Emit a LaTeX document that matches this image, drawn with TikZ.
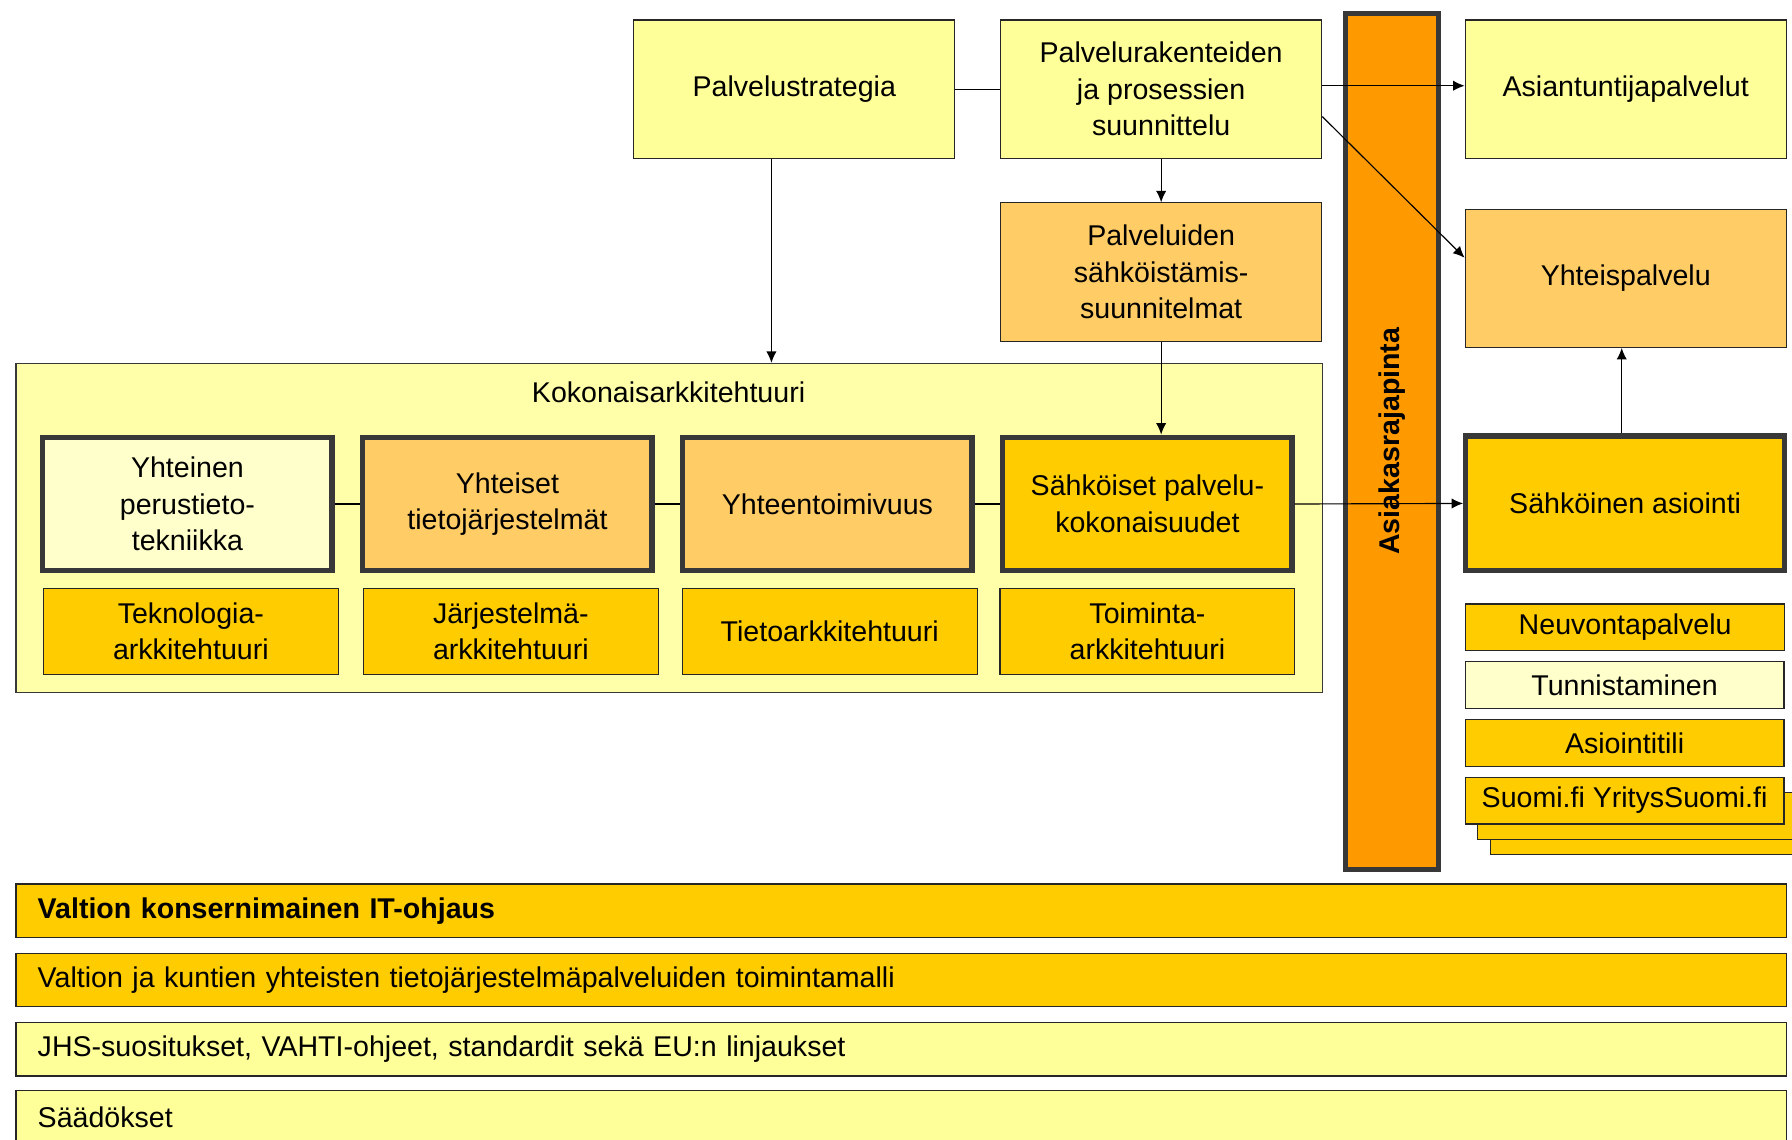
\documentclass[tikz,border=0pt]{standalone}
\usepackage{fontspec}
\setmainfont{Liberation Sans}
\usepackage{tikz}
\usetikzlibrary{arrows.meta,positioning}
\definecolor{lightyellow}{HTML}{FFFF99}
\definecolor{paleyellow}{HTML}{FFFFCC}
\definecolor{archyellow}{HTML}{FFFFAA}
\definecolor{lightorange}{HTML}{FFCC66}
\definecolor{gold}{HTML}{FFCC00}
\definecolor{deeporange}{HTML}{FF9900}
\definecolor{darkframe}{HTML}{383838}
\tikzset{
  box/.style={draw=black!85,line width=1pt,minimum width=281pt,minimum height=121pt,align=center,inner sep=0pt},
  thickbox/.style={box,draw=darkframe,line width=4.6pt,minimum width=253pt,minimum height=117pt},
  archbox/.style={box,fill=gold,minimum width=258pt,minimum height=75pt},
  listbox/.style={box,minimum width=279pt,minimum height=41pt},
  band/.style={box,minimum width=1549pt,minimum height=47pt,text width=1511pt,align=left},
  arr/.style={-{Latex[length=10pt,width=9pt]},line width=1pt},
  link/.style={line width=1pt}
}
\begin{document}
\begin{tikzpicture}[x=1pt,y=-1pt,font=\fontsize{25}{32}\selectfont]
\clip (0,0) rectangle (1568,997);

\node[box,fill=lightyellow] (strat) at (695,78) {Palvelustrategia};
\node[box,fill=lightyellow] (rakent) at (1016,78) {Palvelurakenteiden\\ja prosessien\\suunnittelu};
\node[box,fill=lightorange] (sahkoist) at (1016,238) {Palveluiden\\sähköistämis-\\suunnitelmat};

\node[box,fill=archyellow,draw=darkframe,minimum width=1143pt,minimum height=288pt] (koko) at (585.5,462) {};
\node (kokotitle) at (585,343) {Kokonaisarkkitehtuuri};

\node[thickbox,fill=paleyellow] (perus) at (164,441) {Yhteinen\\perustieto-\\tekniikka};
\node[thickbox,fill=lightorange] (yhtjarj) at (444,441) {Yhteiset\\tietojärjestelmät};
\node[thickbox,fill=lightorange] (yhteent) at (724,441) {Yhteentoimivuus};
\node[thickbox,fill=gold] (palvkok) at (1004,441) {Sähköiset palvelu-\\kokonaisuudet};

\node[archbox] (teknarch) at (167,552.5) {Teknologia-\\arkkitehtuuri};
\node[archbox] (jarjarch) at (447,552.5) {Järjestelmä-\\arkkitehtuuri};
\node[archbox] (tietoarch) at (726,552.5) {Tietoarkkitehtuuri};
\node[archbox] (toimarch) at (1004,552.5) {Toiminta-\\arkkitehtuuri};

\node[box,rotate=90,fill=deeporange,draw=darkframe,line width=4.6pt,minimum width=749pt,minimum height=81pt,font=\fontsize{25}{32}\selectfont\bfseries] (asiakas) at (1218,386) {Asiakasrajapinta};

\node[box,fill=lightyellow] (asiant) at (1422.5,78) {Asiantuntijapalvelut};
\node[box,fill=lightorange] (yhteisp) at (1422.5,243.5) {Yhteispalvelu};
\node[thickbox,fill=gold,minimum width=279pt,minimum height=118pt] (asiointi) at (1422,440.5) {Sähköinen asiointi};
\node[listbox,fill=gold] (neuvonta) at (1422,549) {Neuvontapalvelu};
\node[listbox,fill=paleyellow] (tunnist) at (1421.5,599.5) {Tunnistaminen};
\node[listbox,fill=gold] (tili) at (1421.5,650) {Asiointitili};
\node[listbox,fill=gold] (suomiback2) at (1443.5,727.5) {};
\node[listbox,fill=gold] (suomiback1) at (1432.5,714) {};
\node[listbox,fill=gold] (suomi) at (1421.5,700.5) {Suomi.fi YritysSuomi.fi};

\node[band,fill=gold,font=\fontsize{25}{32}\selectfont\bfseries] (ohjaus) at (788.5,797) {Valtion konsernimainen IT-ohjaus};
\node[band,fill=gold] (toimmalli) at (788.5,857.5) {Valtion ja kuntien yhteisten tietojärjestelmäpalveluiden toimintamalli};
\node[band,fill=lightyellow] (jhs) at (788.5,918) {JHS-suositukset, VAHTI-ohjeet, standardit sekä EU:n linjaukset};
\node[band,fill=lightyellow] (saadokset) at (788.5,977.5) {Säädökset};

\draw[link] (strat.east) -- (rakent.west);
\draw[link] (perus.east) -- (yhtjarj.west);
\draw[link] (yhtjarj.east) -- (yhteent.west);
\draw[link] (yhteent.east) -- (palvkok.west);
\draw[arr] ([xshift=-20pt]strat.south) -- ([xshift=-20pt]strat.south |- koko.north);
\draw[arr] (rakent.south) -- (sahkoist.north);
\draw[arr] (sahkoist.south) -- (sahkoist.south |- palvkok.north);
\draw[arr] ([yshift=3pt]rakent.east) -- ([yshift=3pt]asiant.west);
\draw[arr] ([yshift=-24pt]rakent.east) -- ([yshift=18pt]yhteisp.west);
\draw[arr] (palvkok.east) -- (asiointi.west);
\draw[arr] ([xshift=-3pt]asiointi.north) -- ([xshift=-3pt]asiointi.north |- yhteisp.south);
\end{tikzpicture}
\end{document}
